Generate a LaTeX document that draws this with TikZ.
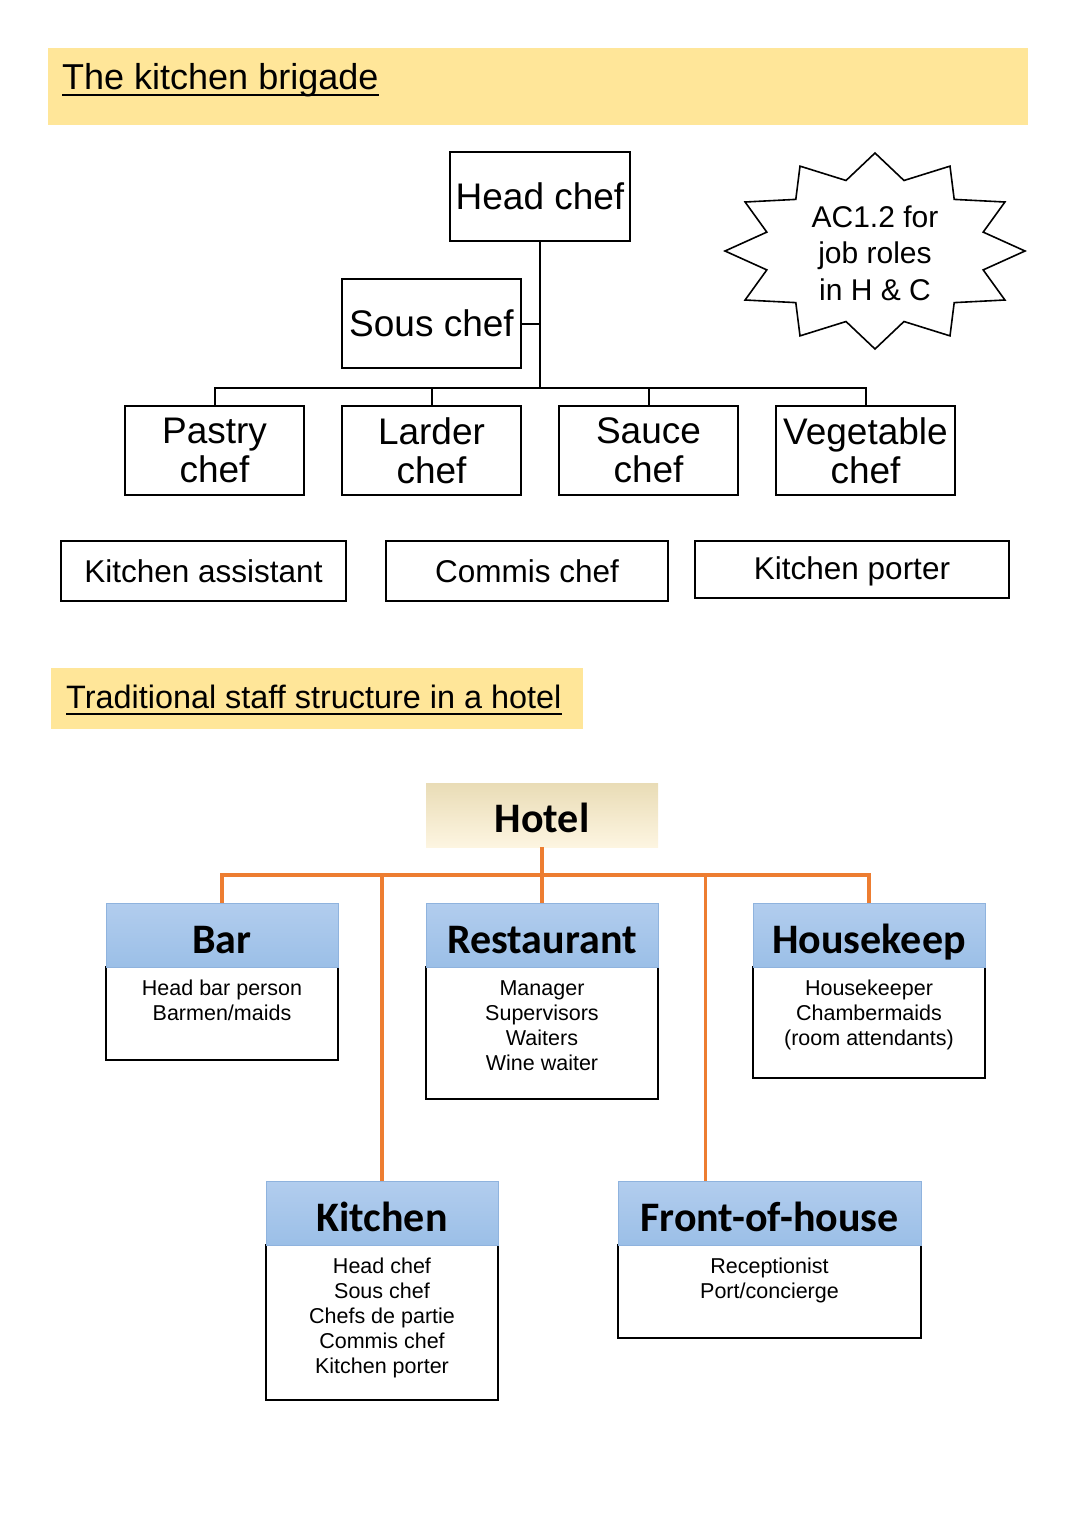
\documentclass[tikz,border=0pt]{standalone}
\usepackage{fontspec}
\setmainfont{Liberation Sans}
\newfontfamily\hdrfont{Carlito}
\usetikzlibrary{calc}
\definecolor{banner}{HTML}{FFE699}
\definecolor{orgline}{HTML}{ED7D31}
\definecolor{bluetop}{HTML}{B2CDEE}
\definecolor{bluebot}{HTML}{9BBFE7}
\definecolor{bluedraw}{HTML}{8FB3DE}
\definecolor{creamtop}{HTML}{E9DCB6}
\definecolor{creambot}{HTML}{FDF5E1}
\begin{document}
\begin{tikzpicture}[x=1pt,y=-1pt,
  kbox/.style={draw=black,line width=2pt,inner sep=0pt,align=center},
  kline/.style={draw=black,line width=2pt},
  bigtxt/.style={font=\fontsize{37}{39}\selectfont},
  midtxt/.style={font=\fontsize{31.5}{36}\selectfont},
  hdrbox/.style={top color=bluetop,bottom color=bluebot,draw=bluedraw,line width=0.8pt,
    minimum width=232pt,minimum height=64pt,inner sep=0pt,text height=36pt,text depth=0pt,
    font=\hdrfont\bfseries\fontsize{42}{44}\selectfont},
  bodybox/.style={draw=black,line width=2pt,minimum width=232pt,inner sep=0pt},
  bodytxt/.style={anchor=north,align=center,inner sep=0pt,font=\fontsize{21.5}{25}\selectfont},
  oline/.style={draw=orgline,line width=3.5pt}
]
\useasboundingbox (0,0) rectangle (1080,1527);
% ---------- Banner 1
\fill[banner] (48,48) rectangle (1028,125);
\node[anchor=base west,inner sep=0pt,font=\fontsize{36}{40}\selectfont] (t1) at (62,89) {The kitchen brigade};
\draw[line width=2.4pt] ([yshift=-6pt]t1.base west) -- ([yshift=-6pt]t1.base east);

% ---------- Kitchen brigade
\node[kbox,bigtxt,minimum width=180pt,minimum height=89pt] (head) at (540,196.5) {Head chef};
\node[kbox,bigtxt,minimum width=179pt,minimum height=89pt] (sous) at (431.5,323.5) {Sous chef};
\node[kbox,bigtxt,minimum width=179pt,minimum height=89pt] (pastry) at (214.5,450.5) {Pastry\\chef};
\node[kbox,bigtxt,minimum width=179pt,minimum height=89pt] (larder) at (431.5,450.5) {Larder\\chef};
\node[kbox,bigtxt,minimum width=179pt,minimum height=89pt] (sauce) at (648.5,450.5) {Sauce\\chef};
\node[kbox,bigtxt,minimum width=179pt,minimum height=89pt] (veg) at (865.5,450.5) {Vegetable\\chef};
\coordinate (kbus) at (540,388);
\draw[kline] (head.south) -- (kbus);
\draw[kline] (sous.east) -- (sous.east -| head.south);
\draw[kline] (pastry.north) |- (kbus) -| (veg.north);
\draw[kline] (larder.north) -- (larder.north |- kbus);
\draw[kline] (sauce.north) -- (sauce.north |- kbus);

\node[kbox,midtxt,minimum width=285pt,minimum height=60pt] (kass) at (203.5,571) {Kitchen assistant};
\node[kbox,midtxt,minimum width=282pt,minimum height=60pt] (commis) at (527,571) {Commis chef};
\node[kbox,midtxt,minimum width=314pt,minimum height=57pt,text height=24pt,text depth=4pt] (kporter) at (852,569.5) {Kitchen porter};

% ---------- Starburst
\draw[line width=1.6pt,line join=miter]
  plot[samples at={0,...,23}] ({875+(mod(\x,2)==0 ? 150 : 112)*cos(15*\x)}, {251+(mod(\x,2)==0 ? 98 : 73)*sin(15*\x)}) -- cycle;
\node[align=center,inner sep=0pt,font=\fontsize{30}{36.5}\selectfont] (ac) at (875,253) {AC1.2 for\\job roles\\in H \& C};

% ---------- Banner 2
\fill[banner] (51,668) rectangle (583,729);
\node[anchor=base west,inner sep=0pt,font=\fontsize{32.4}{36}\selectfont] (t2) at (66,708) {Traditional staff structure in a hotel};
\draw[line width=2.2pt] ([yshift=-6pt]t2.base west) -- ([yshift=-6pt]t2.base east);

% ---------- Hotel structure
\node[top color=creamtop,bottom color=creambot,draw=none,minimum width=232pt,minimum height=64pt,inner sep=0pt,
  text height=34pt,text depth=0pt,font=\hdrfont\bfseries\fontsize{42}{44}\selectfont] (hotel) at (542,815) {Hotel};

% Bar
\node[bodybox,minimum height=93pt] (barB) at (222,1013.5) {};
\node[hdrbox] (barH) at (222,935) {Bar};
\node[bodytxt] (barT) at (222,980) {Head bar person\\Barmen/maids};
% Restaurant
\node[bodybox,minimum height=132pt] (resB) at (542,1033) {};
\node[hdrbox] (resH) at (542,935) {Restaurant};
\node[bodytxt] (resT) at (542,980) {Manager\\Supervisors\\Waiters\\Wine waiter};
% Housekeep
\node[bodybox,minimum height=111pt] (houB) at (869,1022.5) {};
\node[hdrbox] (houH) at (869,935) {Housekeep};
\node[bodytxt] (houT) at (869,980) {Housekeeper\\Chambermaids\\(room attendants)};
% Kitchen
\node[bodybox,minimum height=155pt] (kitB) at (382,1322.5) {};
\node[hdrbox] (kitH) at (382,1213) {Kitchen};
\node[bodytxt] (kitT) at (382,1258) {Head chef\\Sous chef\\Chefs de partie\\Commis chef\\Kitchen porter};
% Front-of-house
\node[bodybox,minimum width=303pt,minimum height=93pt] (fohB) at (769.5,1291.5) {};
\node[hdrbox,minimum width=303pt] (fohH) at (769.5,1213) {Front-of-house};
\node[bodytxt] (fohT) at (769.5,1258) {Receptionist\\Port/concierge};

% Orange connectors
\coordinate (hbus) at (542,875);
\coordinate (fohtop) at ($(fohH.north west)!0.29!(fohH.north east)$);
\draw[oline] (hotel.south) -- (resH.north);
\draw[oline] (barH.north) |- (hbus) -| (houH.north);
\draw[oline] (kitH.north) -- (kitH.north |- hbus);
\draw[oline] (fohtop) -- (fohtop |- hbus);
\end{tikzpicture}
\end{document}
